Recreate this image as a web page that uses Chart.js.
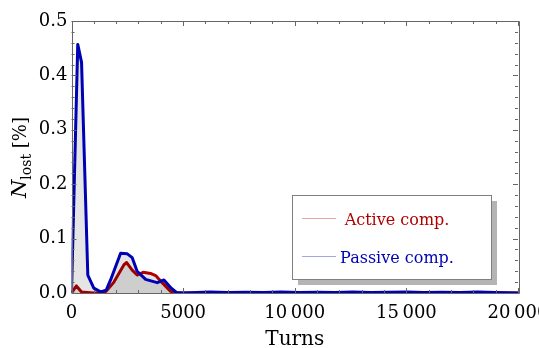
<!DOCTYPE html>
<html>
<head>
<meta charset="utf-8">
<script src="https://cdn.jsdelivr.net/npm/chart.js@4.4.0/dist/chart.umd.min.js"></script>
<style>
  html, body { margin: 0; padding: 0; background: #ffffff; }
  #wrap { position: relative; width: 539px; height: 348px; }
</style>
</head>
<body>
<div id="wrap"><canvas id="c" width="539" height="348"></canvas></div>
<script>
// ---- data ----
const activeTurns  = [0, 220, 450, 700, 1000, 1300, 1550, 1900, 2350, 2470, 2720, 2940, 3210, 3540, 3770, 4060, 4440, 4700, 5000, 20000];
const activeValues = [0, 0.013, 0.002, 0.001, 0, 0, 0.003, 0.020, 0.052, 0.056, 0.042, 0.033, 0.038, 0.036, 0.032, 0.019, 0.003, 0, 0, 0];

const passiveTurns  = [0, 280, 450, 730, 1000, 1300, 1550, 1750, 2200, 2500, 2720, 2940, 3320, 3840, 4140, 4440, 4700, 5000, 5600, 6200, 7000, 7800, 8600, 9400, 10200, 11000, 11800, 12600, 13400, 14200, 15000, 15800, 16600, 17400, 18200, 19000, 20000];
const passiveValues = [0, 0.457, 0.424, 0.033, 0.009, 0.002, 0.005, 0.024, 0.073, 0.072, 0.065, 0.040, 0.025, 0.019, 0.024, 0.010, 0.001, 0, 0.001, 0.002, 0.001, 0.0015, 0.001, 0.002, 0.001, 0.0015, 0.001, 0.002, 0.001, 0.0015, 0.002, 0.001, 0.0015, 0.001, 0.002, 0.001, 0];

const seriesNames = ['Active comp.', 'Passive comp.'];
const xTickValues = [0, 5000, 10000, 15000, 20000];
const xTickLabels = ['0', '5000', '10\u2009000', '15\u2009000', '20\u2009000'];
const yTickValues = [0, 0.1, 0.2, 0.3, 0.4, 0.5];
const yTickLabels = ['0.0', '0.1', '0.2', '0.3', '0.4', '0.5'];
const xTitle = 'Turns';
const yTitleMain = 'N';
const yTitleSub = 'lost';
const yTitleRest = ' [%]';

const RED = '#b00000';
const BLUE = '#0000b4';
const SERIF = '"DejaVu Serif", serif';

function toXY(xs, ys) { return xs.map((x, i) => ({ x: x, y: ys[i] })); }

// frame + inward ticks
const framePlugin = {
  id: 'frame',
  afterDatasetsDraw(chart) {
    const { ctx, chartArea: a, scales: { x, y } } = chart;
    ctx.save();
    ctx.strokeStyle = '#666666';
    ctx.lineWidth = 1;
    ctx.beginPath();
    ctx.rect(Math.round(a.left) + 0.5, Math.round(a.top) + 0.5, Math.round(a.right - a.left), Math.round(a.bottom - a.top));
    ctx.stroke();
    ctx.beginPath();
    for (let v = 0; v <= 20000; v += 1000) {
      const px = Math.round(x.getPixelForValue(v)) + 0.5;
      const len = (v % 5000 === 0) ? 5 : 3;
      ctx.moveTo(px, a.bottom); ctx.lineTo(px, a.bottom - len);
      ctx.moveTo(px, a.top); ctx.lineTo(px, a.top + len);
    }
    for (let i = 0; i <= 25; i++) {
      const v = i * 0.02;
      const py = Math.round(y.getPixelForValue(v)) + 0.5;
      const len = (i % 5 === 0) ? 5 : 3;
      ctx.moveTo(a.left, py); ctx.lineTo(a.left + len, py);
      ctx.moveTo(a.right, py); ctx.lineTo(a.right - len, py);
    }
    ctx.stroke();
    ctx.restore();
  }
};

// y-axis title with subscript
const yTitlePlugin = {
  id: 'ytitle',
  afterDraw(chart) {
    const ctx = chart.ctx;
    ctx.save();
    ctx.translate(26, 198);
    ctx.rotate(-Math.PI / 2);
    ctx.fillStyle = '#000';
    ctx.textBaseline = 'alphabetic';
    ctx.textAlign = 'left';
    ctx.font = 'italic 21px ' + SERIF;
    ctx.fillText(yTitleMain, 0, 0);
    let w = ctx.measureText(yTitleMain).width;
    ctx.font = '14px ' + SERIF;
    ctx.fillText(yTitleSub, w, 5);
    w += ctx.measureText(yTitleSub).width;
    ctx.font = '18px ' + SERIF;
    ctx.fillText(yTitleRest, w, 0);
    ctx.restore();
  }
};

// legend box with shadow
const legendPlugin = {
  id: 'boxlegend',
  afterDraw(chart) {
    const ctx = chart.ctx;
    const bx = 292, by = 195, bw = 199, bh = 84;
    ctx.save();
    ctx.fillStyle = '#b4b4b4';
    ctx.fillRect(bx + 6, by + 6, bw, bh);
    ctx.fillStyle = '#ffffff';
    ctx.fillRect(bx, by, bw, bh);
    ctx.strokeStyle = '#808080';
    ctx.lineWidth = 1;
    ctx.strokeRect(bx + 0.5, by + 0.5, bw, bh);
    const items = [
      { name: seriesNames[0], line: '#e8a4a4', color: RED, ly: 218.5, ty: 225 },
      { name: seriesNames[1], line: '#a4a4e8', color: BLUE, ly: 256.5, ty: 263 }
    ];
    ctx.font = '16px ' + SERIF;
    ctx.textAlign = 'center';
    ctx.textBaseline = 'alphabetic';
    items.forEach(it => {
      ctx.strokeStyle = it.line;
      ctx.beginPath();
      ctx.moveTo(302, it.ly); ctx.lineTo(336, it.ly);
      ctx.stroke();
      ctx.fillStyle = it.color;
      ctx.fillText(it.name, 397, it.ty);
    });
    ctx.restore();
  }
};

new Chart(document.getElementById('c'), {
  type: 'line',
  data: {
    datasets: [
      {
        label: seriesNames[1],
        data: toXY(passiveTurns, passiveValues),
        borderColor: BLUE,
        borderWidth: 3,
        backgroundColor: 'rgba(0,0,0,0.1)',
        fill: 'origin',
        pointRadius: 0,
        tension: 0,
        borderJoinStyle: 'round'
      },
      {
        label: seriesNames[0],
        data: toXY(activeTurns, activeValues),
        borderColor: RED,
        borderWidth: 3,
        backgroundColor: 'rgba(0,0,0,0.1)',
        fill: 'origin',
        pointRadius: 0,
        tension: 0,
        borderJoinStyle: 'round'
      }
    ]
  },
  options: {
    responsive: false,
    animation: false,
    layout: { padding: { left: 0, top: 21, right: 21, bottom: 0 } },
    plugins: { legend: { display: false }, tooltip: { enabled: false } },
    scales: {
      x: {
        type: 'linear',
        min: 0, max: 20000,
        afterBuildTicks(s) { s.ticks = xTickValues.map(v => ({ value: v })); },
        afterFit(s) { s.height = 55; s.paddingLeft = 0; s.paddingRight = 0; },
        grid: { display: false, drawTicks: false },
        border: { display: false },
        ticks: {
          padding: 10,
          maxRotation: 0,
          autoSkip: false,
          color: '#000',
          font: { family: SERIF, size: 18 },
          callback: (v) => xTickLabels[xTickValues.indexOf(v)]
        },
        title: {
          display: true,
          text: xTitle,
          color: '#000',
          font: { family: SERIF, size: 20, lineHeight: 0.8 },
          padding: { top: 0, bottom: 0 }
        }
      },
      y: {
        type: 'linear',
        min: 0, max: 0.5,
        afterBuildTicks(s) { s.ticks = yTickValues.map(v => ({ value: v })); },
        afterFit(s) { s.width = 71.5; s.paddingTop = 0; s.paddingBottom = 0; },
        grid: { display: false, drawTicks: false },
        border: { display: false },
        ticks: {
          padding: 4,
          color: '#000',
          font: { family: SERIF, size: 18 },
          callback: (v) => yTickLabels[yTickValues.findIndex(t => Math.abs(t - v) < 1e-9)]
        }
      }
    }
  },
  plugins: [framePlugin, yTitlePlugin, legendPlugin]
});
</script>
</body>
</html>
